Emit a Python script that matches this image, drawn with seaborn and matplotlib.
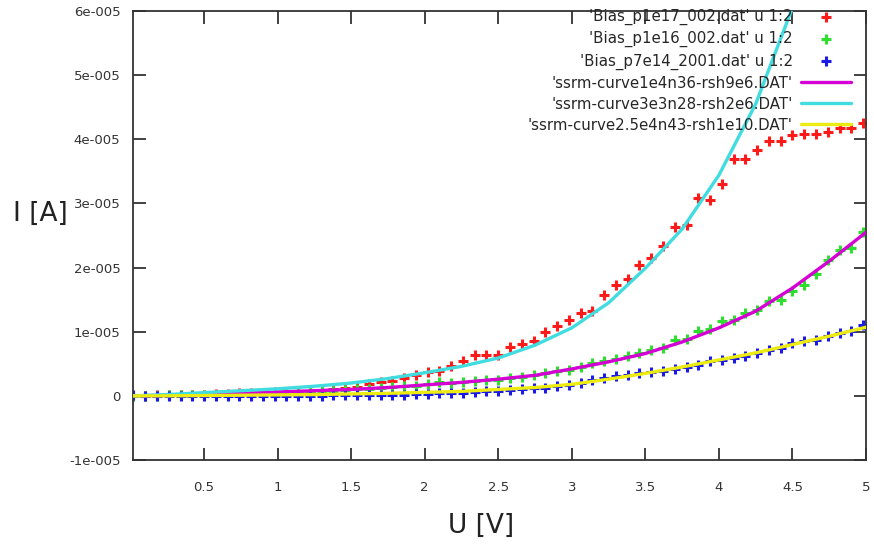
import numpy as np
import pandas as pd
import matplotlib
matplotlib.use("Agg")
import matplotlib.pyplot as plt
import seaborn as sns

# ---------------- data (currents in units of 1e-5 A) ----------------
U_data = [0.02, 0.10, 0.18, 0.26, 0.34, 0.42, 0.50, 0.58, 0.66, 0.74, 0.82, 0.90,
          0.98, 1.06, 1.14, 1.22, 1.30, 1.38, 1.46, 1.54, 1.62, 1.70, 1.78, 1.86,
          1.94, 2.02, 2.10, 2.18, 2.26, 2.34, 2.42, 2.50, 2.58, 2.66, 2.74, 2.82,
          2.90, 2.98, 3.06, 3.14, 3.22, 3.30, 3.38, 3.46, 3.54, 3.62, 3.70, 3.78,
          3.86, 3.94, 4.02, 4.10, 4.18, 4.26, 4.34, 4.42, 4.50, 4.58, 4.66, 4.74,
          4.82, 4.90, 4.98]

I_p1e17 = [0.00, 0.00, 0.01, 0.01, 0.01, 0.02, 0.02, 0.03, 0.03, 0.04, 0.04, 0.05,
           0.06, 0.06, 0.07, 0.08, 0.09, 0.11, 0.12, 0.14, 0.18, 0.21, 0.23, 0.28,
           0.33, 0.37, 0.39, 0.47, 0.54, 0.64, 0.64, 0.64, 0.76, 0.81, 0.86, 1.00,
           1.09, 1.18, 1.29, 1.32, 1.58, 1.73, 1.82, 2.04, 2.15, 2.33, 2.64, 2.66,
           3.09, 3.06, 3.31, 3.70, 3.70, 3.83, 3.97, 3.98, 4.06, 4.09, 4.09, 4.12,
           4.18, 4.18, 4.25]

I_p1e16 = [0.00, 0.00, 0.00, 0.01, 0.01, 0.01, 0.02, 0.02, 0.02, 0.03, 0.03, 0.04,
           0.04, 0.05, 0.05, 0.06, 0.07, 0.08, 0.09, 0.10, 0.11, 0.12, 0.14, 0.15,
           0.16, 0.18, 0.21, 0.20, 0.22, 0.23, 0.24, 0.25, 0.28, 0.29, 0.32, 0.36,
           0.39, 0.40, 0.45, 0.51, 0.54, 0.58, 0.62, 0.67, 0.72, 0.75, 0.87, 0.89,
           1.01, 1.04, 1.17, 1.18, 1.29, 1.34, 1.48, 1.49, 1.63, 1.73, 1.90, 2.12,
           2.27, 2.30, 2.55]

I_p7e14 = [0.01, 0.00, 0.00, 0.00, 0.00, 0.00, 0.00, 0.00, 0.00, 0.00, 0.00, 0.00,
           0.00, 0.00, 0.00, 0.00, 0.00, 0.01, 0.01, 0.01, 0.01, 0.02, 0.02, 0.02,
           0.03, 0.03, 0.04, 0.04, 0.05, 0.06, 0.07, 0.08, 0.09, 0.10, 0.12, 0.13,
           0.15, 0.17, 0.20, 0.24, 0.28, 0.31, 0.33, 0.36, 0.37, 0.39, 0.42, 0.45,
           0.48, 0.54, 0.56, 0.59, 0.62, 0.67, 0.72, 0.75, 0.82, 0.86, 0.87, 0.93,
           0.98, 1.01, 1.10]

U_curve = [0.02, 0.25, 0.50, 0.75, 1.00, 1.25, 1.50, 1.75, 2.00, 2.25, 2.50,
           2.75, 3.00, 3.25, 3.50, 3.75, 4.00, 4.25, 4.50, 4.75, 5.00]
I_curve_1e4n36 = [0.00, 0.01, 0.02, 0.04, 0.06, 0.08, 0.10, 0.13, 0.17, 0.21, 0.26,
                  0.32, 0.42, 0.53, 0.66, 0.84, 1.06, 1.32, 1.68, 2.10, 2.55]
I_curve_3e3n28 = [0.00, 0.02, 0.05, 0.08, 0.11, 0.15, 0.20, 0.27, 0.36, 0.46, 0.59,
                  0.79, 1.06, 1.45, 1.99, 2.60, 3.44, 4.55, 6.05, 8.00, 10.50]
I_curve_2_5e4n43 = [0.00, 0.00, 0.005, 0.01, 0.015, 0.02, 0.03, 0.04, 0.055, 0.07, 0.10,
                    0.13, 0.18, 0.26, 0.35, 0.45, 0.56, 0.67, 0.80, 0.93, 1.07]

data_names = ["'Bias_p1e17_002.dat' u 1:2", "'Bias_p1e16_002.dat' u 1:2",
              "'Bias_p7e14_2001.dat' u 1:2"]
curve_names = ["'ssrm-curve1e4n36-rsh9e6.DAT'", "'ssrm-curve3e3n28-rsh2e6.DAT'",
               "'ssrm-curve2.5e4n43-rsh1e10.DAT'"]

x_ticks = [0.5, 1, 1.5, 2, 2.5, 3, 3.5, 4, 4.5, 5]
x_tick_labels = ["0.5", "1", "1.5", "2", "2.5", "3", "3.5", "4", "4.5", "5"]
y_ticks = [-1e-5, 0, 1e-5, 2e-5, 3e-5, 4e-5, 5e-5, 6e-5]
y_tick_labels = ["-1e-005", "0", "1e-005", "2e-005", "3e-005", "4e-005", "5e-005", "6e-005"]

SCALE = 1e-5

# ---------------- styling ----------------
sns.set_theme(style="ticks")
plt.rcParams["font.family"] = ["DejaVu Sans"]

data_colors = ["#ff1a1a", "#2ee02e", "#1a1ae6"]
curve_colors = ["#d400d4", "#40dce0", "#ecec10"]

fig = plt.figure(figsize=(8.74, 5.49), dpi=100)
ax = fig.add_axes([133 / 874, 1 - 460 / 549, 733 / 874, 449 / 549])

for name, vals, col in zip(data_names, [I_p1e17, I_p1e16, I_p7e14], data_colors):
    df = pd.DataFrame({"U": U_data, "I": np.array(vals) * SCALE})
    sns.scatterplot(data=df, x="U", y="I", marker="+", color=col, s=55,
                    linewidth=2.2, label=name, ax=ax, zorder=2)

for name, vals, col in zip(curve_names,
                           [I_curve_1e4n36, I_curve_3e3n28, I_curve_2_5e4n43],
                           curve_colors):
    df = pd.DataFrame({"U": U_curve, "I": np.array(vals) * SCALE})
    sns.lineplot(data=df, x="U", y="I", color=col, linewidth=2.4, label=name,
                 ax=ax, zorder=3)

ax.set_xlim(0.017, 5)
ax.set_ylim(-1e-5, 6e-5)
ax.set_xticks(x_ticks)
ax.set_xticklabels(x_tick_labels)
ax.set_yticks(y_ticks)
ax.set_yticklabels(y_tick_labels)

for sp in ax.spines.values():
    sp.set_visible(True)
    sp.set_linewidth(1.3)
    sp.set_color("#333333")

ax.tick_params(axis="both", direction="in", length=9, width=1.3, top=True,
               right=True, labelsize=9.5, color="#333333", labelcolor="#333333")
ax.tick_params(axis="x", pad=15)
ax.tick_params(axis="y", pad=9)

ax.set_ylabel("I [A]", rotation=0, fontsize=19, va="center", ha="center",
              color="#222222")
ax.yaxis.set_label_coords(-0.127, 0.548)
ax.set_xlabel("U [V]", fontsize=19, va="center", color="#222222")
ax.xaxis.set_label_coords(0.475, -0.147)

ax.legend(loc="upper right", bbox_to_anchor=(0.981, 1.008), markerfirst=False,
          frameon=False, fontsize=10.8, handlelength=3.3, handletextpad=0.55,
          labelspacing=0.4, borderaxespad=0, borderpad=0.1)

fig.savefig("out.png", dpi=100)
